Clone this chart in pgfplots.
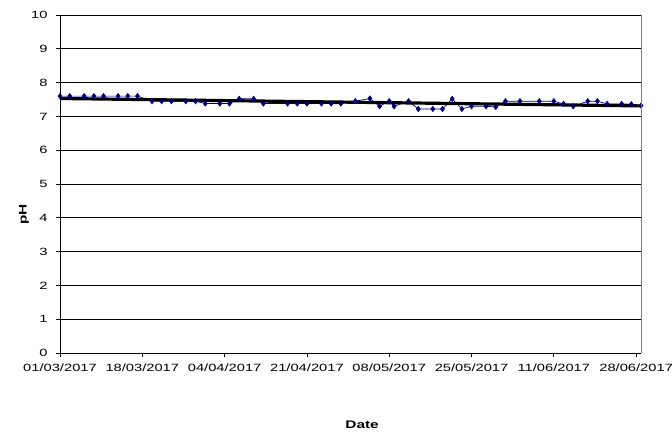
\documentclass[border=0pt]{standalone}
\usepackage{fontspec}
\setmainfont{Liberation Sans}[FakeStretch=1.4]
\usepackage{pgfplots}
\usepackage{pgfplotstable}
\pgfplotsset{compat=1.18}
\pgfplotstableread{
day pH
0 7.6
2 7.6
5 7.6
7 7.6
9 7.6
12 7.6
14 7.6
16 7.6
19 7.45
21 7.45
23 7.45
26 7.45
28 7.45
30 7.38
33 7.38
35 7.38
37 7.52
40 7.52
42 7.38
47 7.38
49 7.38
51 7.38
54 7.38
56 7.38
58 7.38
61 7.45
64 7.53
66 7.3
68 7.45
69 7.3
72 7.45
74 7.22
77 7.22
79 7.22
81 7.52
83 7.22
85 7.3
88 7.3
90 7.28
92 7.45
95 7.45
99 7.45
102 7.45
104 7.37
106 7.3
109 7.45
111 7.45
113 7.37
116 7.37
118 7.36
120 7.32
}\datatable
\definecolor{navy}{RGB}{0,0,128}
\begin{document}
\begin{tikzpicture}
\path[use as bounding box] (0,0) rectangle (672pt,432pt);
\begin{axis}[
  at={(60pt,79pt)}, anchor=south west,
  scale only axis, width=581pt, height=338pt,
  xmin=0, xmax=120, ymin=0, ymax=10,
  axis x line=bottom, axis y line=left,
  axis line style={-, black, line width=0.8pt},
  xtick={0,17,34,51,68,85,102,119},
  xticklabels={01/03/2017,18/03/2017,04/04/2017,21/04/2017,08/05/2017,25/05/2017,11/06/2017,28/06/2017},
  ytick={0,1,...,10},
  tick align=outside, major tick length=4pt,
  tick style={black, line width=0.8pt},
  ymajorgrids, grid style={black, line width=0.8pt},
  /pgf/number format/assume math mode=true,
  tick label style={font=\fontsize{10.5}{12}\selectfont},
  yticklabel style={xshift=-5pt},
  xticklabel style={yshift=-3pt},
  ylabel={pH}, xlabel={Date},
  label style={font=\fontsize{11}{13}\selectfont\bfseries},
  ylabel style={at={(axis description cs:-0.062,0.41)}, anchor=center},
  xlabel style={at={(axis description cs:0.52,-0.213)}, anchor=center},
  clip=false,
  after end axis/.code={\draw[gray, line width=0.8pt] (rel axis cs:1,0) -- (rel axis cs:1,1);},
]
\addplot[navy, line width=0.7pt, mark=diamond*, mark size=2.6pt, mark options={fill=navy, draw=navy}] table[x=day, y=pH] {\datatable};
\addplot[black, line width=3.2pt, no marks] table[x=day, y={create col/linear regression={y=pH}}] {\datatable};
\end{axis}
\end{tikzpicture}
\end{document}
